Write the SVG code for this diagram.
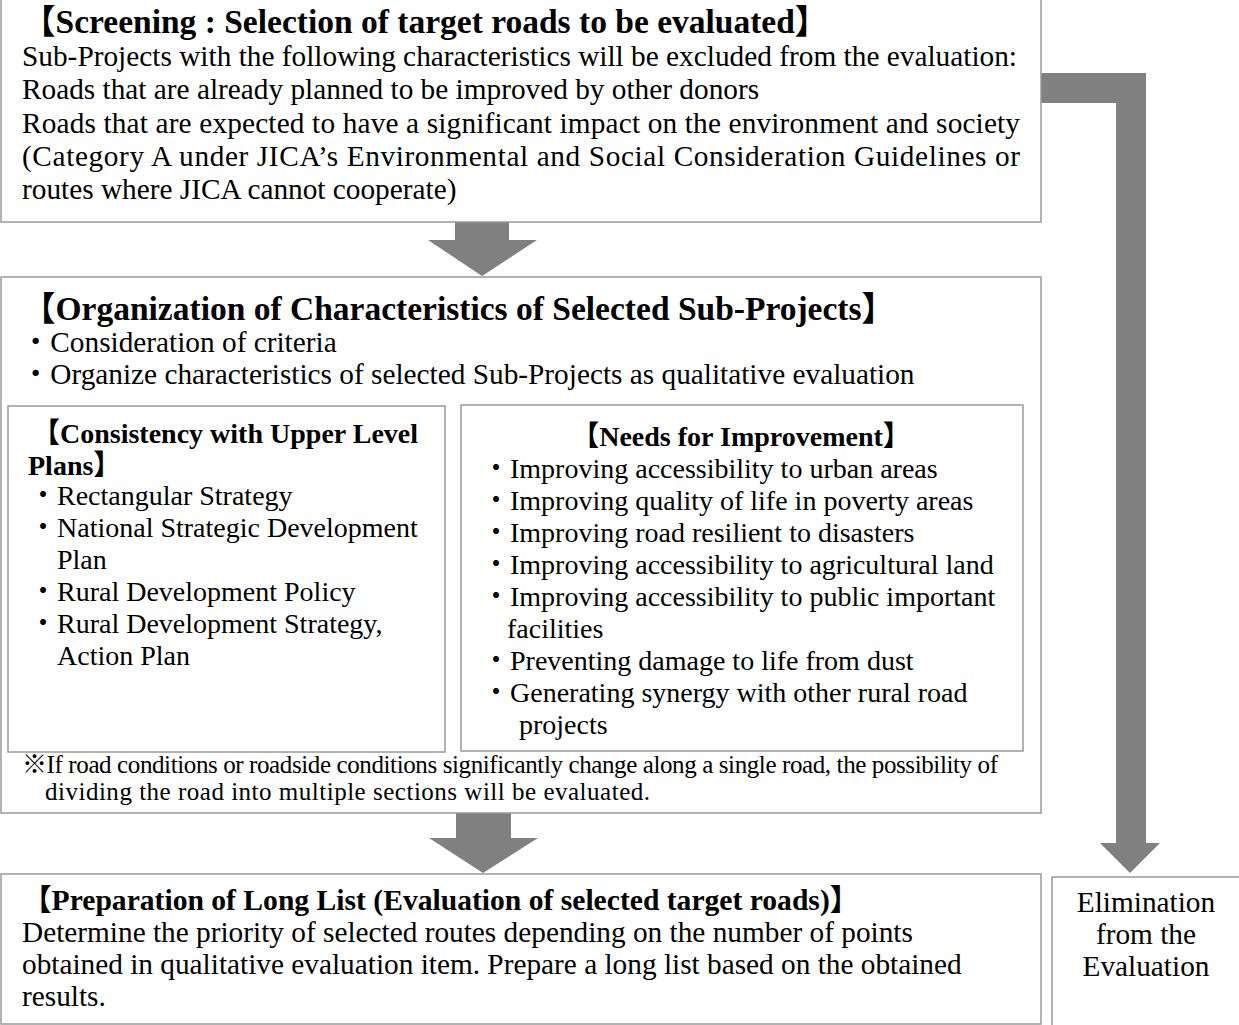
<svg xmlns="http://www.w3.org/2000/svg" width="1239" height="1025" viewBox="0 0 1239 1025">
<style>
.box{fill:#fff;stroke:#999;stroke-width:1.5}
.t{font-family:"Liberation Serif","Noto Sans CJK JP",serif;font-size:29.3px;fill:#000}
.b{font-weight:bold}
.h1{font-size:33.5px}
.h2{font-size:29.6px}
.s{font-size:28px}
.n{font-size:25px}
.arr{fill:#808080}
</style>
<g id="connectors">
<path class="arr" d="M455,222 H509 V240 H537 L482,276 L428,240 H455 Z"/>
<path class="arr" d="M456,813 H511 V838 H538 L483,873 L429,838 H456 Z"/>
<path class="arr" d="M1041,73 H1146 V843 H1160 L1130,873 L1100,843 H1116 V103 H1041 Z"/>
</g>
<g id="screening">
<rect class="box" x="1" y="-2" width="1040" height="224"/>
<text class="t b h1" x="22" y="33">【Screening : Selection of target roads to be evaluated】</text>
<text class="t" x="22" y="66" textLength="995" lengthAdjust="spacing">Sub-Projects with the following characteristics will be excluded from the evaluation:</text>
<text class="t" x="22" y="99">Roads that are already planned to be improved by other donors</text>
<text class="t" x="22" y="133" textLength="998" lengthAdjust="spacing">Roads that are expected to have a significant impact on the environment and  society</text>
<text class="t" x="22" y="166" textLength="998" lengthAdjust="spacing">(Category A under JICA’s Environmental and Social Consideration Guidelines or</text>
<text class="t" x="22" y="199">routes where JICA cannot cooperate)</text>
</g>
<g id="organization">
<rect class="box" x="1" y="277" width="1040" height="536"/>
<text class="t b h1" x="22" y="320">【Organization of Characteristics of Selected Sub-Projects】</text>
<text class="t" x="21" y="352">・Consideration of criteria</text>
<text class="t" x="21" y="384">・Organize characteristics of selected Sub-Projects as qualitative evaluation</text>
<text class="t n" x="22" y="773" textLength="976" lengthAdjust="spacing">※If road conditions or roadside conditions significantly change along a single road, the possibility of</text>
<text class="t n" x="45" y="800" textLength="605" lengthAdjust="spacing">dividing the road into multiple sections will be evaluated.</text>
</g>
<g id="consistency">
<rect class="box" x="8" y="406" width="437" height="346"/>
<text class="t b s" x="32" y="443">【Consistency with Upper Level</text>
<text class="t b s" x="28" y="475">Plans】</text>
<text class="t s" x="29" y="505">・Rectangular Strategy</text>
<text class="t s" x="29" y="537">・National Strategic Development</text>
<text class="t s" x="57" y="569">Plan</text>
<text class="t s" x="29" y="601">・Rural Development Policy</text>
<text class="t s" x="29" y="633">・Rural Development Strategy,</text>
<text class="t s" x="57" y="665">Action Plan</text>
</g>
<g id="needs">
<rect class="box" x="461" y="405" width="562" height="346"/>
<text class="t b s" x="741" y="446" text-anchor="middle">【Needs for Improvement】</text>
<text class="t s" x="482" y="478">・Improving accessibility to urban areas</text>
<text class="t s" x="482" y="510">・Improving quality of life in poverty areas</text>
<text class="t s" x="482" y="542">・Improving road resilient to disasters</text>
<text class="t s" x="482" y="574">・Improving accessibility to agricultural land</text>
<text class="t s" x="482" y="606">・Improving accessibility to public important</text>
<text class="t s" x="507" y="638">facilities</text>
<text class="t s" x="482" y="670">・Preventing damage to life from dust</text>
<text class="t s" x="482" y="702">・Generating synergy with other rural road</text>
<text class="t s" x="519" y="734">projects</text>
</g>
<g id="longlist">
<rect class="box" x="1" y="874" width="1040" height="150"/>
<text class="t b h2" x="22" y="910">【Preparation of Long List (Evaluation of selected target roads)】</text>
<text class="t" x="22" y="942">Determine the priority of selected routes depending on the number of points</text>
<text class="t" x="22" y="974">obtained in qualitative evaluation item. Prepare a long list based on the obtained</text>
<text class="t" x="22" y="1006">results.</text>
</g>
<g id="elimination">
<rect class="box" x="1052" y="877" width="200" height="160"/>
<text class="t" x="1146" y="912" text-anchor="middle">Elimination</text>
<text class="t" x="1146" y="944" text-anchor="middle">from the</text>
<text class="t" x="1146" y="976" text-anchor="middle">Evaluation</text>
</g>
</svg>
